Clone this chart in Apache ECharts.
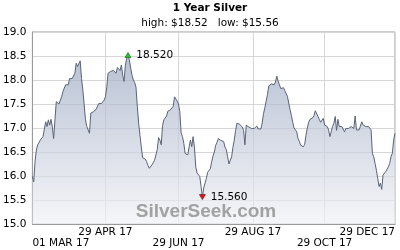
<!DOCTYPE html>
<html>
<head>
<meta charset="utf-8">
<script src="https://cdn.jsdelivr.net/npm/echarts@6/dist/echarts.min.js"></script>
<style>html,body{margin:0;padding:0;background:#fff}#c{width:400px;height:250px}</style>
</head>
<body>
<div id="c"></div>
<script>
// Silver price samples (left to right)
var prices = [
  15.99,15.88,16.30,16.54,16.65,16.61,16.75,16.79,16.82,16.82,
  17.13,17.03,17.17,17.06,17.18,17.03,16.78,17.17,17.55,17.51,
  17.50,17.48,17.65,17.76,17.72,17.90,17.93,17.90,18.03,18.00,
  18.03,18.00,18.14,18.35,18.28,18.24,18.40,18.03,17.79,17.48,
  17.17,17.03,16.99,16.89,17.31,17.31,17.34,17.38,17.39,17.43,
  17.51,17.51,17.51,17.55,17.58,17.65,
  17.85,18.14,18.17,18.18,18.14,18.20,18.18,18.14,18.26,18.22,
  18.20,18.31,18.10,17.97,18.30,18.45,18.52,18.42,18.25,18.10,
  18.00,17.95,17.85,17.45,17.10,16.85,16.60,16.38,16.37,16.35,
  16.30,16.22,16.16,16.14,16.23,16.26,16.33,16.44,16.55,16.80,
  16.75,16.65,17.05,17.17,17.18,17.25,17.35,17.36,17.38,17.36,
  17.45,17.65,17.62,17.56,17.50,17.34,
  16.89,16.82,16.68,16.47,16.44,16.44,16.61,16.75,16.61,16.82,
  16.61,16.19,16.06,16.04,15.99,15.78,15.56,15.75,15.71,15.95,
  16.08,16.12,16.15,16.30,16.42,16.50,16.64,16.70,16.78,16.82,
  16.74,16.70,16.72,16.60,16.55,16.40,16.25,16.24,16.40,16.60,
  16.75,16.95,17.10,17.09,17.08,17.05,17.02,16.95,16.65,17.06,
  17.05,17.02,16.99,16.99,16.98,
  16.99,17.03,17.04,16.98,17.01,16.98,17.10,17.30,17.42,17.45,
  17.70,17.88,17.90,17.92,17.90,17.90,17.96,18.08,17.98,17.90,
  17.82,17.80,17.84,17.78,17.76,17.66,17.52,17.38,17.26,17.12,
  17.00,17.00,16.92,16.78,16.72,16.64,16.60,16.61,16.66,16.85,
  17.00,17.12,17.18,17.20,17.21,17.26,17.36,17.34,17.24,17.18,
  17.12,17.10,17.20,17.06,17.03,17.03,
  16.96,16.82,16.78,17.03,17.10,17.24,16.95,17.18,17.03,16.99,
  17.03,16.99,16.92,16.99,17.03,16.99,16.96,17.03,17.06,16.99,
  17.25,16.96,16.92,16.96,16.96,17.13,17.06,17.06,17.03,16.99,
  17.03,16.99,16.96,16.47,16.40,16.26,16.12,15.95,15.78,15.85,
  15.72,16.02,15.99,16.09,16.12,16.19,16.26,16.40,16.47,16.75,
  16.89
];
// Date tick labels and the sample they fall on
var tickLabels = ['01 MAR 17','29 APR 17','29 JUN 17','29 AUG 17','29 OCT 17','29 DEC 17'];
var tickSample = [0, 55, 110, 166, 220, 273];
var titleText = '1 Year Silver';
var subText = 'high: $18.52   low: $15.56';
var watermark = 'SilverSeek.com';

var categories = prices.map(function (p, i) {
  var k = tickSample.indexOf(i);
  return k >= 0 ? tickLabels[k] : '';
});
var rowOf = function (i) { var k = tickSample.indexOf(i); return k < 0 ? -1 : k % 2; };
var isTick = function (i) { return rowOf(i) >= 0; };
var isUpper = function (i) { return rowOf(i) === 1; };
var isLower = function (i) { return rowOf(i) === 0; };
var FONT = 'DejaVu Sans';

function labelAxis(filter, margin, extra) {
  var ax = {
    type: 'category',
    data: categories,
    position: 'bottom',
    boundaryGap: false,
    axisLine: {show: false},
    axisTick: {show: false},
    splitLine: {show: false},
    axisLabel: {
      interval: filter,
      hideOverlap: false,
      showMinLabel: true, showMaxLabel: true,
      margin: margin,
      fontFamily: FONT, fontSize: 10.5, lineHeight: 10, color: '#000'
    }
  };
  for (var k in extra) ax[k] = extra[k];
  return ax;
}

var upperAxis = labelAxis(isUpper, 3, {
  axisLine: {show: true, lineStyle: {color: '#9a9a9a', width: 1}},
  splitLine: {show: true, interval: isTick, lineStyle: {color: '#d6d6d6', width: 1}}
});
upperAxis.axisLabel.alignMaxLabel = 'right';
var lowerAxis = labelAxis(isLower, 14, {});
lowerAxis.axisLabel.alignMinLabel = 'left';

var chart = echarts.init(document.getElementById('c'), null, {renderer: 'canvas'});
chart.setOption({
  animation: false,
  backgroundColor: '#fff',
  grid: {left: 30, right: 5, top: 32, bottom: 26, show: true, borderColor: '#9a9a9a', borderWidth: 1, backgroundColor: 'transparent'},
  graphic: [
    {type: 'text', x: 210, y: 8, style: {text: titleText, font: 'bold 10.5px "DejaVu Sans"', fill: '#000', align: 'center', verticalAlign: 'middle'}},
    {type: 'text', x: 210, y: 23, style: {text: subText, font: '10.5px "DejaVu Sans"', fill: '#000', align: 'center', verticalAlign: 'middle', whiteSpace: 'pre'}},
    {type: 'text', x: 206, y: 212, z: 100, style: {text: watermark, font: 'bold 19px "Liberation Sans"', fill: '#a2a2a2', align: 'center', verticalAlign: 'middle'}}
  ],
  xAxis: [upperAxis, lowerAxis],
  yAxis: {
    type: 'value', min: 15, max: 19, interval: 0.5,
    axisLine: {show: true, lineStyle: {color: '#9a9a9a', width: 1}},
    axisTick: {show: false},
    axisLabel: {margin: 6, fontFamily: FONT, fontSize: 10.5, color: '#000', formatter: function (v) { return v.toFixed(1); }},
    splitLine: {show: true, lineStyle: {color: '#d6d6d6', width: 1}}
  },
  series: [{
    type: 'line',
    xAxisIndex: 0,
    data: prices,
    symbol: 'none',
    lineStyle: {color: '#5a6478', width: 1},
    areaStyle: {
      origin: 'start',
      color: new echarts.graphic.LinearGradient(0, 0, 0, 1, [
        {offset: 0, color: '#9aa7c1'},
        {offset: 1, color: '#f1f2f6'}
      ])
    },
    markPoint: {
      animation: false,
      data: [
        {type: 'max', symbol: 'triangle', symbolSize: [6, 5], itemStyle: {color: '#22cc22', borderColor: '#105010', borderWidth: 0.6},
         label: {show: true, position: 'right', distance: 5, fontFamily: FONT, fontSize: 10.5, color: '#000', formatter: function (p) { return p.value.toFixed(3); }}},
        {type: 'min', symbol: 'triangle', symbolRotate: 180, symbolSize: [6, 5], itemStyle: {color: '#ee1111', borderColor: '#501010', borderWidth: 0.6},
         label: {show: true, position: 'right', distance: 5, fontFamily: FONT, fontSize: 10.5, color: '#000', formatter: function (p) { return p.value.toFixed(3); }}}
      ]
    }
  }]
});
</script>
</body>
</html>
